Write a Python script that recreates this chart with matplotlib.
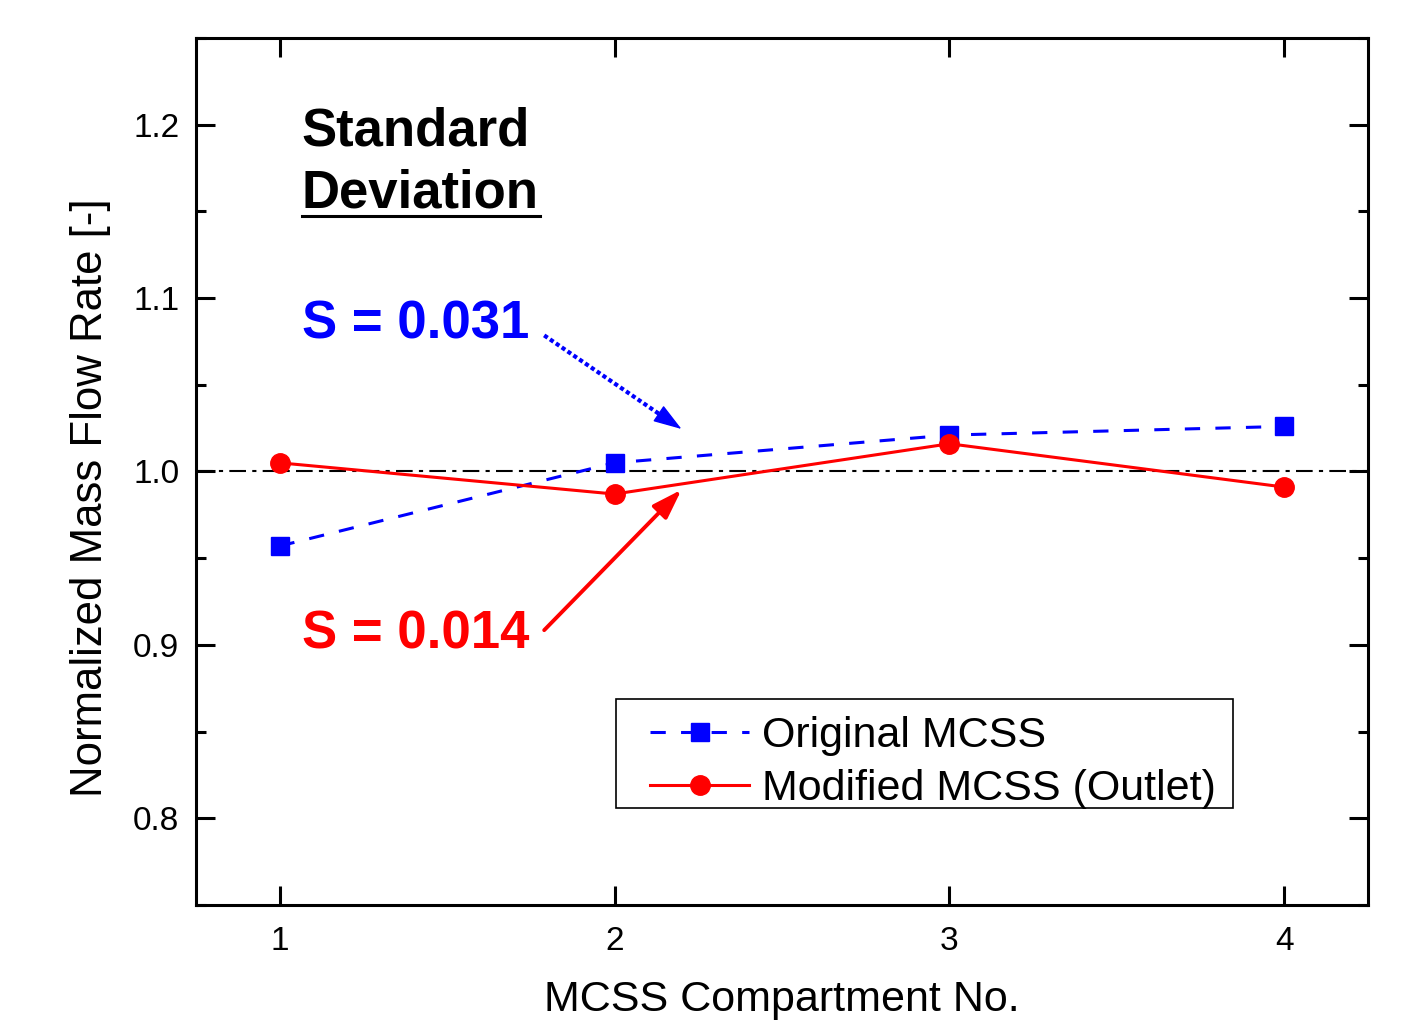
import matplotlib
matplotlib.use("Agg")
import matplotlib.pyplot as plt
from matplotlib.patches import Rectangle
from matplotlib.ticker import MultipleLocator

plt.rcParams['font.family'] = ['Liberation Sans', 'DejaVu Sans']

compartment = [1, 2, 3, 4]
original = [0.957, 1.005, 1.021, 1.026]
modified = [1.005, 0.987, 1.016, 0.991]
labels = ["Original MCSS", "Modified MCSS (Outlet)"]
s_original = "S = 0.031"
s_modified = "S = 0.014"

fig = plt.figure(figsize=(14.09, 10.27), dpi=100)
ax = fig.add_axes([0.139, 0.1188, 0.832, 0.8442])

ax.axhline(1.0, color='black', lw=1.5, ls=(0, (8, 3, 2, 3)), zorder=1)
ax.plot(compartment, original, color='#0000ff', lw=2.2, ls=(0, (5, 5)),
        marker='s', ms=13, label=labels[0], zorder=3)
ax.plot(compartment, modified, color='#ff0000', lw=2.2, ls='-',
        marker='o', ms=14, label=labels[1], zorder=3)

ax.set_xlim(0.75, 4.25)
ax.set_ylim(0.75, 1.25)
ax.set_xticks(compartment)
ax.yaxis.set_major_locator(MultipleLocator(0.1))
ax.yaxis.set_minor_locator(MultipleLocator(0.05))
ax.tick_params(which='both', direction='in', top=True, right=True, width=2.2)
ax.tick_params(which='major', length=14, labelsize=24, pad=12)
ax.tick_params(axis='x', which='major', pad=15)
ax.tick_params(which='minor', length=7)
for sp in ax.spines.values():
    sp.set_linewidth(2.2)

ax.set_xlabel("MCSS Compartment No.", fontsize=31, labelpad=17)
ax.set_ylabel("Normalized Mass Flow Rate [-]", fontsize=31.5)
ax.yaxis.set_label_coords(-0.072, 0.47)

# text annotations
ax.text(0.0904, 0.876, "Standard", transform=ax.transAxes, fontsize=38,
        fontweight='bold', ha='left', va='baseline')
ax.text(0.0904, 0.804, "Deviation", transform=ax.transAxes, fontsize=38,
        fontweight='bold', ha='left', va='baseline')
ax.plot([0.0904, 0.2935], [0.795, 0.795], transform=ax.transAxes,
        color='black', lw=2.2)

ax.text(0.0904, 0.653, s_original, transform=ax.transAxes, fontsize=38,
        fontweight='bold', color='#0000ff', ha='left', va='baseline')
ax.text(0.0904, 0.296, s_modified, transform=ax.transAxes, fontsize=38,
        fontweight='bold', color='#ff0000', ha='left', va='baseline')

# blue dotted arrow: shaft + solid head
ax.plot([1.79, 2.165], [1.0785, 1.029], color='#0000ff', lw=3,
        ls=(0, (1, 0.7)))
ax.annotate("", xy=(2.2, 1.0245), xytext=(2.15, 1.031),
            arrowprops=dict(arrowstyle='-|>,head_length=1.8,head_width=0.6',
                            color='#0000ff', lw=1, shrinkA=0, shrinkB=0))
ax.annotate("", xy=(2.2, 0.9895), xytext=(1.79, 0.9085),
            arrowprops=dict(arrowstyle='-|>,head_length=1.8,head_width=0.6',
                            color='#ff0000', lw=2.8,
                            shrinkA=0, shrinkB=0))

leg = ax.legend(loc='lower right', bbox_to_anchor=(0.8814, 0.0958),
                fontsize=31, frameon=False,
                handlelength=2.3, handletextpad=0.3, borderpad=0.3,
                labelspacing=0.3, borderaxespad=0)
ax.add_patch(Rectangle((0.3584, 0.1119), 0.5265, 0.1257,
                       transform=ax.transAxes, fill=False,
                       edgecolor='black', lw=1.2, zorder=4))

fig.savefig("out.png", dpi=100)
